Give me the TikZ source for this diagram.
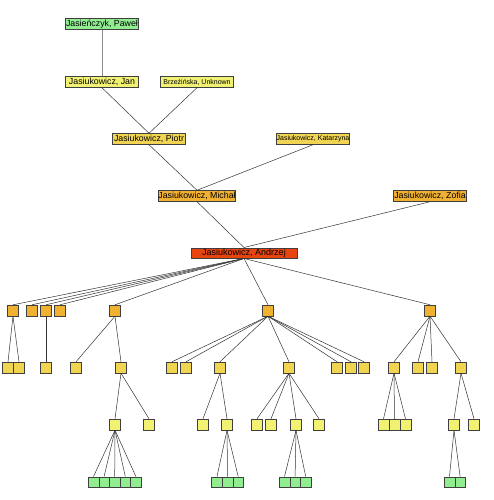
\documentclass[tikz,border=0pt]{standalone}
\usepackage{fontspec}
\setmainfont{Liberation Sans}
\definecolor{cgreen}{HTML}{90EE90}
\definecolor{cyel}{HTML}{F2F272}
\definecolor{cgold}{HTML}{F0D452}
\definecolor{corange}{HTML}{F0B030}
\definecolor{cred}{HTML}{E84412}
\begin{document}
\begin{tikzpicture}[x=1pt,y=-1pt,
  box/.style={draw=black!75, line width=0.45pt, inner sep=0pt, minimum height=11pt},
  big/.style={box, minimum width=73pt, font=\fontsize{8.8}{9}\selectfont},
  bigs/.style={box, minimum width=73pt, font=\fontsize{7}{7}\selectfont},
  sm/.style={box, minimum width=10.8pt, minimum height=11pt},
  tn/.style={box, minimum width=10.6pt, minimum height=10.5pt},
  link/.style={draw=black!80, line width=0.5pt},
  g/.style={fill=cgreen}, y1/.style={fill=cyel}, y2/.style={fill=cgold},
  o/.style={fill=corange}, r/.style={fill=cred}]
\useasboundingbox (0,0) rectangle (493,500);
% ancestors
\node[big,g] (n0) at (102,24) {Jasieńczyk, Paweł};
\node[big,y1] (n1) at (102,82) {Jasiukowicz, Jan};
\node[bigs,y1] (n2) at (197,82) {Brzeźińska, Unknown};
\node[big,y2] (n3) at (149,139) {Jasiukowicz, Piotr};
\node[bigs,y2] (n4) at (313,139) {Jasiukowicz, Katarzyna};
\node[big,o] (n5) at (197,196) {Jasiukowicz, Michał};
\node[big,o] (n6) at (430,196) {Jasiukowicz, Zofia};
\node[box,r,minimum width=106pt,minimum height=10.5pt,font=\fontsize{9}{9}\selectfont] (rt) at (244,253) {Jasiukowicz, Andrzej};
\draw[draw=black!45, line width=1pt] (n0.south) -- (n1.north);
\draw[link] (n1.south) -- (n3.north);
\draw[link] (n2.south) -- (n3.north);
\draw[link] (n3.south) -- (n5.north);
\draw[link] (n4.south) -- (n5.north);
\draw[link] (n5.south) -- (rt.north);
\draw[link] (n6.south) -- (rt.north);
% level 4
\foreach \n/\x in {a1/13,a2/32,a3/46,a4/60,a5/115,a6/268,a7/430}
  \node[sm,o] (\n) at (\x,310.5) {};
\foreach \n in {a1,a2,a3,a4,a5,a6,a7}
  \draw[link] (rt.south) -- (\n.north);
% level 5
\foreach \n/\x/\p in {b1/8/a1,b2/19/a1,b3/46/a3,b4/76/a5,b5/121/a5,
  b6/172/a6,b7/186/a6,b8/220/a6,b9/289/a6,b10/337/a6,b11/351/a6,b12/364/a6,
  b13/394/a7,b14/418/a7,b15/432/a7,b16/461/a7}{
  \node[sm,y2] (\n) at (\x,367.5) {};
  \draw[link] (\p.south) -- (\n.north);
}
% level 6
\foreach \n/\x/\p in {c1/115/b5,c2/149/b5,c3/203/b8,c4/227/b8,
  c5/257/b9,c6/271/b9,c7/296/b9,c8/319/b9,
  c9/383.5/b13,c10/394.5/b13,c11/405.5/b13,c12/454/b16,c13/474/b16}{
  \node[sm,y1] (\n) at (\x,424.5) {};
  \draw[link] (\p.south) -- (\n.north);
}
% level 7
\foreach \n/\x/\p in {d1/93.5/c1,d2/104.1/c1,d3/114.7/c1,d4/125.3/c1,d5/135.9/c1,
  d6/217/c4,d7/227.6/c4,d8/238.2/c4,
  d9/284.5/c7,d10/295.1/c7,d11/305.7/c7,
  d12/449.5/c12,d13/460.1/c12}{
  \node[tn,g] (\n) at (\x,482) {};
  \draw[link] (\p.south) -- (\n.north);
}
\end{tikzpicture}
\end{document}
